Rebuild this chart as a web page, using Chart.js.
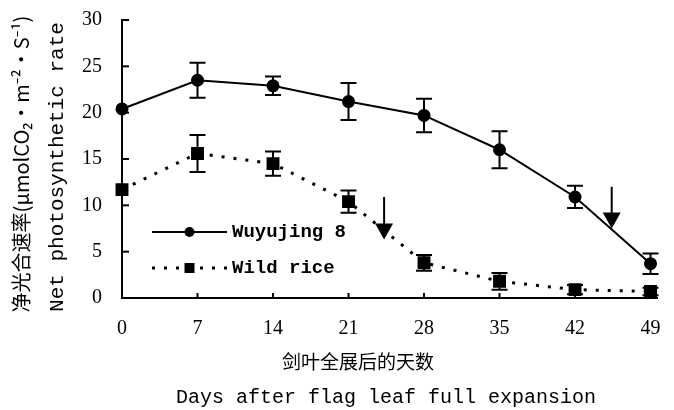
<!DOCTYPE html>
<html>
<head>
<meta charset="utf-8">
<script src="https://cdn.jsdelivr.net/npm/chart.js@4.4.0/dist/chart.umd.min.js"></script>
<style>
  html, body { margin: 0; padding: 0; background: #fff; }
  #wrap { width: 674px; height: 410px; position: relative; }
</style>
</head>
<body>
<div id="wrap"><canvas id="chart"></canvas></div>
<script>
// data
const days = [0, 7, 14, 21, 28, 35, 42, 49];
const yTicks = [0, 5, 10, 15, 20, 25, 30];
const wuyujing = [20.4, 23.5, 22.9, 21.2, 19.7, 16.0, 10.9, 3.7];
const wuyujingErr = [0, 1.9, 1.0, 2.0, 1.8, 2.0, 1.2, 1.1];
const wildRice = [11.7, 15.6, 14.5, 10.4, 3.8, 1.8, 0.9, 0.7];
const wildRiceErr = [0, 2.0, 1.3, 1.2, 0.85, 0.9, 0.5, 0.4];
const seriesNames = ['Wuyujing 8', 'Wild rice'];
// arrows (day, start value, tip value)
const arrowDays = [24.3, 45.4];
const arrowFrom = [10.9, 12.0];
const arrowTo = [6.3, 7.5];

const yTitleCn = '净光合速率(μmolCO₂·m⁻²·S⁻¹)';
const yTitleEn = 'Net photosynthetic rate';
const xTitleCn = '剑叶全展后的天数';
const xTitleEn = 'Days after flag leaf full expansion';

const monoFont = '"Liberation Mono", "DejaVu Sans Mono", monospace';
const cjkFont = '"Noto Sans CJK SC", "Noto Sans", sans-serif';

const extras = {
  id: 'extras',
  afterDatasetsDraw(chart) {
    const ctx = chart.ctx;
    const x = chart.scales.x, y = chart.scales.y;
    const area = chart.chartArea;
    ctx.save();
    ctx.strokeStyle = '#000';
    ctx.fillStyle = '#000';

    // error bars
    ctx.lineWidth = 2;
    const bars = [[wuyujing, wuyujingErr], [wildRice, wildRiceErr]];
    bars.forEach(([vals, errs]) => {
      vals.forEach((v, i) => {
        if (!errs[i]) return;
        const px = x.getPixelForValue(days[i]);
        const top = y.getPixelForValue(v + errs[i]);
        const bot = y.getPixelForValue(v - errs[i]);
        ctx.beginPath();
        ctx.moveTo(px, top); ctx.lineTo(px, bot);
        ctx.moveTo(px - 8, top); ctx.lineTo(px + 8, top);
        ctx.moveTo(px - 8, bot); ctx.lineTo(px + 8, bot);
        ctx.stroke();
      });
    });

    // arrows
    arrowDays.forEach((d, i) => {
      const px = x.getPixelForValue(d);
      const y0 = y.getPixelForValue(arrowFrom[i]);
      const y1 = y.getPixelForValue(arrowTo[i]);
      ctx.lineWidth = 2;
      ctx.beginPath();
      ctx.moveTo(px, y0); ctx.lineTo(px, y1 - 10);
      ctx.stroke();
      ctx.beginPath();
      ctx.moveTo(px - 9, y1 - 16);
      ctx.lineTo(px + 9, y1 - 16);
      ctx.lineTo(px, y1);
      ctx.closePath();
      ctx.fill();
    });

    // inward ticks
    ctx.lineWidth = 2;
    yTicks.forEach(v => {
      if (v === 0) return;
      const py = y.getPixelForValue(v);
      ctx.beginPath();
      ctx.moveTo(area.left, py); ctx.lineTo(area.left + 7, py);
      ctx.stroke();
    });
    days.forEach(d => {
      if (d === 0) return;
      const px = x.getPixelForValue(d);
      ctx.beginPath();
      ctx.moveTo(px, area.bottom); ctx.lineTo(px, area.bottom - 5);
      ctx.stroke();
    });

    // legend inside plot
    const lx0 = area.left + 30, lx1 = area.left + 105, ltx = area.left + 110;
    const rows = [232, 268];
    ctx.lineWidth = 2;
    ctx.setLineDash([]);
    ctx.beginPath();
    ctx.moveTo(lx0, rows[0]); ctx.lineTo(lx1, rows[0]);
    ctx.stroke();
    ctx.beginPath();
    ctx.arc((lx0 + lx1) / 2, rows[0], 5, 0, Math.PI * 2);
    ctx.fill();
    ctx.lineWidth = 3;
    ctx.setLineDash([3, 9]);
    ctx.beginPath();
    ctx.moveTo(lx0, rows[1]); ctx.lineTo(lx1, rows[1]);
    ctx.stroke();
    ctx.setLineDash([]);
    ctx.fillRect((lx0 + lx1) / 2 - 5, rows[1] - 5, 10, 10);
    ctx.font = 'bold 19px ' + monoFont;
    ctx.textBaseline = 'middle';
    ctx.textAlign = 'left';
    ctx.fillText(seriesNames[0], ltx, rows[0]);
    ctx.fillText(seriesNames[1], ltx, rows[1]);

    // axis titles
    ctx.textAlign = 'center';
    ctx.font = '19px ' + cjkFont;
    ctx.fillText(xTitleCn, 358, 362);
    ctx.font = '20px ' + monoFont;
    ctx.fillText(xTitleEn, 386, 398);

    ctx.save();
    ctx.translate(21, 164);
    ctx.rotate(-Math.PI / 2);
    ctx.font = '20px ' + cjkFont;
    ctx.fillText(yTitleCn, 0, 0);
    ctx.restore();
    ctx.save();
    ctx.translate(57, 167);
    ctx.rotate(-Math.PI / 2);
    ctx.font = '21px ' + monoFont;
    ctx.fillText(yTitleEn, 0, 0);
    ctx.restore();

    ctx.restore();
  }
};

new Chart(document.getElementById('chart'), {
  type: 'line',
  data: {
    datasets: [
      {
        label: seriesNames[0],
        data: days.map((d, i) => ({ x: d, y: wuyujing[i] })),
        borderColor: '#000',
        backgroundColor: '#000',
        borderWidth: 2,
        pointStyle: 'circle',
        pointRadius: 5.5,
        tension: 0,
        clip: false
      },
      {
        label: seriesNames[1],
        data: days.map((d, i) => ({ x: d, y: wildRice[i] })),
        borderColor: '#000',
        backgroundColor: '#000',
        borderWidth: 3,
        borderDash: [3, 9],
        pointStyle: 'rect',
        pointRadius: 7,
        tension: 0,
        clip: false
      }
    ]
  },
  options: {
    responsive: true,
    maintainAspectRatio: false,
    animation: false,
    layout: { padding: { left: 0, right: 17, top: 20, bottom: 0 } },
    plugins: { legend: { display: false }, tooltip: { enabled: false } },
    scales: {
      x: {
        type: 'linear',
        min: 0,
        max: 49.6,
        afterBuildTicks: s => { s.ticks = days.map(v => ({ value: v })); },
        afterFit: s => { s.height = 112; s.paddingLeft = 0; s.paddingRight = 0; },
        grid: { display: false, drawTicks: false },
        border: { display: true, color: '#000', width: 2 },
        ticks: {
          color: '#000',
          padding: 19,
          maxRotation: 0,
          font: { family: '"Liberation Serif", serif', size: 20 }
        }
      },
      y: {
        min: 0,
        max: 30,
        afterBuildTicks: s => { s.ticks = yTicks.map(v => ({ value: v })); },
        afterFit: s => { s.width = 122; s.paddingTop = 0; s.paddingBottom = 0; },
        grid: { display: false, drawTicks: false },
        border: { display: true, color: '#000', width: 2 },
        ticks: {
          color: '#000',
          padding: 20,
          font: { family: '"Liberation Serif", serif', size: 20 }
        }
      }
    }
  },
  plugins: [extras]
});
</script>
</body>
</html>
